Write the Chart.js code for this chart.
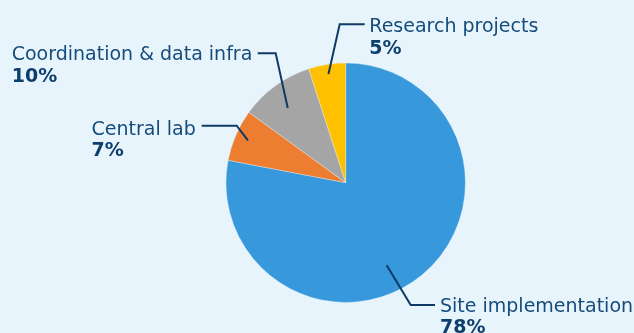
<!DOCTYPE html>
<html>
<head>
<meta charset="utf-8">
<script src="https://cdn.jsdelivr.net/npm/chart.js@4/dist/chart.umd.min.js"></script>
<style>
  html, body { margin: 0; padding: 0; background: #e8f4fc; }
  #wrap { width: 634px; height: 333px; position: relative; }
</style>
</head>
<body>
<div id="wrap"><canvas id="c" width="634" height="333"></canvas></div>
<script>
// Budget split by component
const categories = ['Site implementation', 'Central lab', 'Coordination & data infra', 'Research projects'];
const shares = [78, 7, 10, 5];
const sliceColors = ['#3799db', '#ed7d31', '#a5a5a5', '#ffc000'];

// Callout layout for each slice: where the leader line starts inside the slice
// (fraction of radius, position within the slice's angle span), the elbow and
// the end of the horizontal segment, relative to the pie centre; text baseline
// offset from the horizontal segment.
const callouts = [
  { r: 0.77, t: 0.547, elbow: [65, 122.3],   end: [89.3, 122.3],  side: 'right', gap: 5,   dy: 6.7 },
  { r: 0.89, t: 0.50,  elbow: [-109, -57],   end: [-144, -57],    side: 'left',  gap: 6,   dy: 9   },
  { r: 0.79, t: 0.45,  elbow: [-70, -129.4], end: [-88, -129.4],  side: 'left',  gap: 5.4, dy: 6.5 },
  { r: 0.92, t: 0.50,  elbow: [-6, -158.4],  end: [19, -158.4],   side: 'right', gap: 4.6, dy: 8   }
];

const FONT_FAMILY = '"DejaVu Sans", Verdana, sans-serif';
const FONT_SIZE = 19;
const LINE_GAP = 21.7;
const TEXT_COLOR = '#154c7c';
const VALUE_COLOR = '#0d3f6e';
const LINE_COLOR = '#0d3a66';

const calloutPlugin = {
  id: 'callouts',
  afterDatasetsDraw(chart) {
    const ctx = chart.ctx;
    const meta = chart.getDatasetMeta(0);
    const data = chart.data.datasets[0].data;
    const total = data.reduce((a, b) => a + b, 0);
    meta.data.forEach((arc, i) => {
      const c = callouts[i];
      const p = arc.getProps(['x', 'y', 'startAngle', 'endAngle', 'outerRadius'], true);
      const ang = p.startAngle + (p.endAngle - p.startAngle) * c.t;
      const ax = p.x + Math.cos(ang) * p.outerRadius * c.r;
      const ay = p.y + Math.sin(ang) * p.outerRadius * c.r;
      const ex = p.x + c.elbow[0], ey = p.y + c.elbow[1];
      const lx = p.x + c.end[0], ly = p.y + c.end[1];

      ctx.save();
      ctx.strokeStyle = LINE_COLOR;
      ctx.lineWidth = 2;
      ctx.beginPath();
      ctx.moveTo(ax, ay);
      ctx.lineTo(ex, ey);
      ctx.lineTo(lx, ly);
      ctx.stroke();

      const label = chart.data.labels[i];
      const pct = Math.round(data[i] / total * 100) + '%';
      ctx.textBaseline = 'alphabetic';
      ctx.textAlign = 'left';
      ctx.font = FONT_SIZE + 'px ' + FONT_FAMILY;
      const w = ctx.measureText(label).width;
      const tx = c.side === 'right' ? lx + c.gap : lx - c.gap - w;
      const base = ly + c.dy;
      ctx.fillStyle = TEXT_COLOR;
      ctx.fillText(label, tx, base);
      ctx.font = 'bold ' + FONT_SIZE + 'px ' + FONT_FAMILY;
      ctx.fillStyle = VALUE_COLOR;
      ctx.fillText(pct, tx, base + LINE_GAP);
      ctx.restore();
    });
  }
};

new Chart(document.getElementById('c'), {
  type: 'pie',
  data: {
    labels: categories,
    datasets: [{
      data: shares,
      backgroundColor: sliceColors,
      borderColor: 'rgba(232,244,252,0.6)',
      borderWidth: 0.6,
      hoverOffset: 0,
      offset: 0
    }]
  },
  options: {
    responsive: false,
    animation: false,
    events: [],
    layout: { padding: { left: 225.7, right: 168.3, top: 62.7, bottom: 30.3 } },
    plugins: {
      legend: { display: false },
      tooltip: { enabled: false }
    }
  },
  plugins: [calloutPlugin]
});
</script>
</body>
</html>
